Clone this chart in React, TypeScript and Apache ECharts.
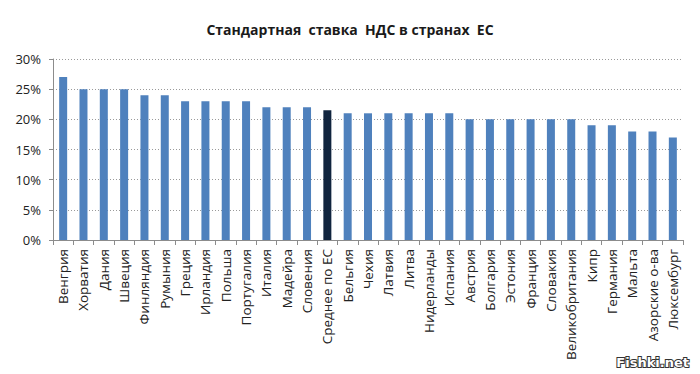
import React, { useEffect, useRef } from "react";
import * as echarts from "echarts";

const categories = [
  "Венгрия", "Хорватия", "Дания", "Швеция", "Финляндия", "Румыния", "Греция",
  "Ирландия", "Польша", "Португалия", "Италия", "Мадейра", "Словения",
  "Среднее по ЕС", "Бельгия", "Чехия", "Латвия", "Литва", "Нидерланды",
  "Испания", "Австрия", "Болгария", "Эстония", "Франция", "Словакия",
  "Великобритания", "Кипр", "Германия", "Мальта", "Азорские о-ва", "Люксембург",
];
const vatRates = [
  27, 25, 25, 25, 24, 24, 23, 23, 23, 23, 22, 22, 22, 21.5, 21, 21, 21, 21, 21,
  21, 20, 20, 20, 20, 20, 20, 19, 19, 18, 18, 17,
];
const highlightCategory = "Среднее по ЕС";
const titleText = "Стандартная  ставка  НДС в странах  ЕС";
const watermark = "Fishki.net";

export default function App() {
  const ref = useRef<HTMLDivElement>(null);
  useEffect(() => {
    if (!ref.current) return;
    const chart = echarts.init(ref.current, undefined, { renderer: "svg" });
    const font = "Open Sans";
    chart.setOption({
      animation: false,
      backgroundColor: "#ffffff",
      title: {
        text: titleText,
        left: "center",
        top: 17,
        textStyle: { fontFamily: font, fontSize: 14, fontWeight: "bold", color: "#1a1a1a" },
      },
      grid: { left: 53, right: 17, top: 59, bottom: 134, containLabel: false },
      xAxis: {
        type: "category",
        data: categories,
        axisLine: { lineStyle: { color: "#8c8c8c", width: 1 } },
        axisTick: { show: true, length: 5, lineStyle: { color: "#8c8c8c" } },
        axisLabel: {
          rotate: 90,
          interval: 0,
          margin: 9,
          fontFamily: font,
          fontSize: 13.5,
          color: "#222",
        },
      },
      yAxis: {
        type: "value",
        min: 0,
        max: 30,
        interval: 5,
        axisLine: { show: true, lineStyle: { color: "#8c8c8c", width: 1 } },
        axisTick: { show: true, length: 4, lineStyle: { color: "#8c8c8c" } },
        axisLabel: {
          formatter: "{value}%",
          fontFamily: font,
          fontSize: 13,
          color: "#222",
          margin: 12,
        },
        splitLine: { lineStyle: { color: "#9a9a9a", type: [1, 2], width: 1 } },
      },
      series: [
        {
          type: "bar",
          barWidth: 8,
          data: vatRates.map((v, i) => ({
            value: v,
            itemStyle: {
              color: categories[i] === highlightCategory ? "#10243e" : "#4f81bd",
            },
          })),
        },
      ],
      graphic: [
        {
          type: "text",
          right: 10,
          bottom: 4,
          style: {
            text: watermark,
            fontFamily: "DejaVu Sans",
            fontSize: 13,
            fontWeight: "bold",
            fill: "#ffffff",
            stroke: "#333333",
            lineWidth: 2,
          },
        },
      ],
    });
    return () => chart.dispose();
  }, []);
  return (
    <div
      ref={ref}
      style={{ position: "fixed", left: 0, top: 0, width: 700, height: 374 }}
    />
  );
}
